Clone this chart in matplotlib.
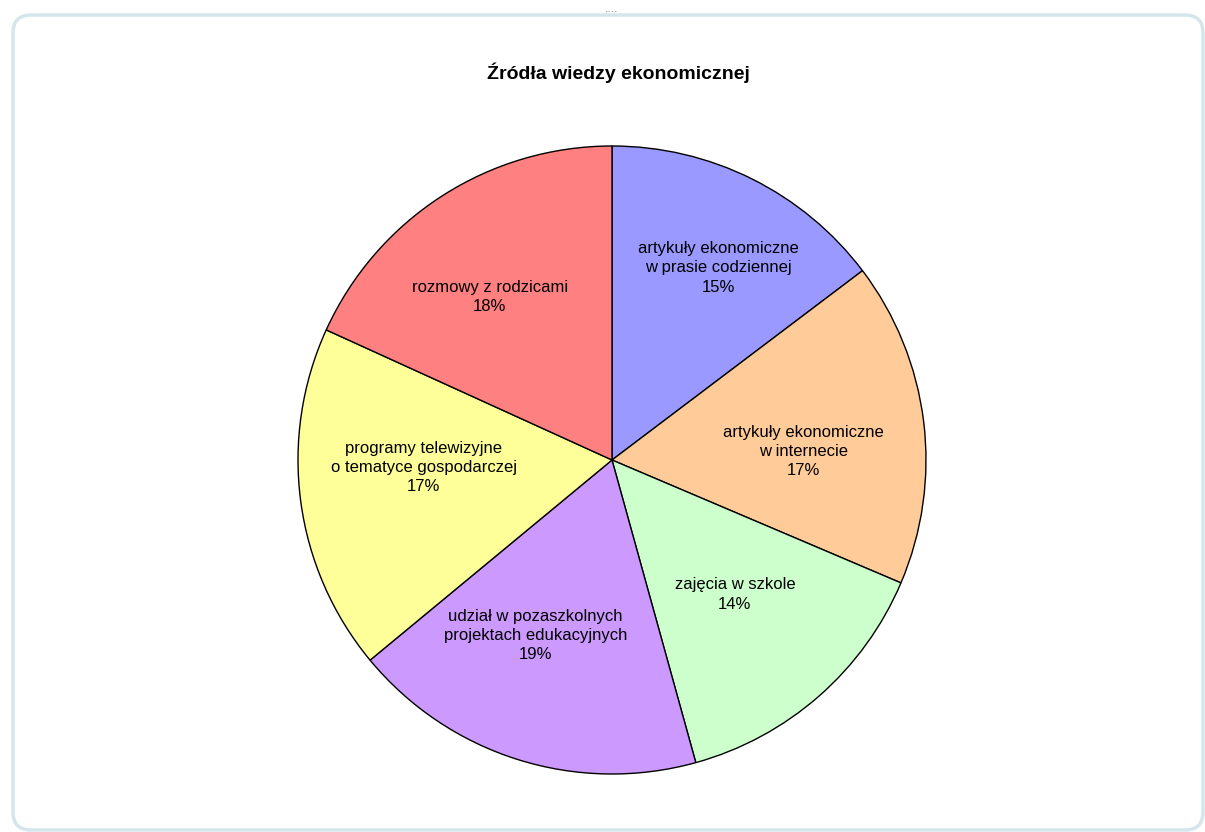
import numpy as np
import matplotlib
matplotlib.use("Agg")
import matplotlib.pyplot as plt
from matplotlib.patches import FancyBboxPatch

plt.rcParams['font.family'] = ['Liberation Sans', 'DejaVu Sans']

# data (slice sizes read from the drawn wedges, labels as printed)
categories = [
    "artykuły ekonomiczne\nw prasie codziennej",
    "artykuły ekonomiczne\nw internecie",
    "zajęcia w szkole",
    "udział w pozaszkolnych\nprojektach edukacyjnych",
    "programy telewizyjne\no tematyce gospodarczej",
    "rozmowy z rodzicami",
]
shares = [14.7, 16.7, 14.3, 18.3, 17.8, 18.2]
pct_labels = ["15%", "17%", "14%", "19%", "17%", "18%"]
colors = ["#9999FF", "#FFCC99", "#CCFFCC", "#CC99FF", "#FFFF99", "#FF8080"]

# label placement: fraction of radius and angle nudge from the wedge middle
label_r = [0.70, 0.61, 0.58, 0.61, 0.60, 0.65]
label_dang = [-2.6, -4.4, 1.2, -6.1, -5.3, 4.1]

W, H = 1205, 832
fig = plt.figure(figsize=(W / 100, H / 100), dpi=100)
fig.patch.set_facecolor("white")

# window frame (behind the chart)
frame = FancyBboxPatch((0.13, 0.02), 11.9, 8.15,
                       boxstyle="round,pad=0,rounding_size=0.18",
                       transform=fig.dpi_scale_trans,
                       facecolor="none", edgecolor="#d4e6eb", lw=2.5, zorder=-5)
fig.add_artist(frame)
fig.text(612 / W, 1 - 9 / H, "....", ha="center", va="center",
         fontsize=9, color="#888888")

fig.text(618 / W, 1 - 73 / H, "Źródła wiedzy ekonomicznej",
         ha="center", va="center", fontsize=14, fontweight="bold")

cx, cy, r = 612, 460, 314
ax = fig.add_axes([(cx - r) / W, (H - cy - r) / H, 2 * r / W, 2 * r / H])

wedges, _ = ax.pie(shares, colors=colors, startangle=90, counterclock=False,
                   wedgeprops=dict(edgecolor="black", linewidth=1.0, clip_on=False))

for w, cat, pct, lr, da in zip(wedges, categories, pct_labels, label_r, label_dang):
    mid = np.deg2rad((w.theta1 + w.theta2) / 2 + da)
    ax.text(lr * np.cos(mid), lr * np.sin(mid), f"{cat}\n{pct}",
            ha="center", va="center", multialignment="center",
            fontsize=12, linespacing=1.35)

ax.set_xlim(-1, 1)
ax.set_ylim(-1, 1)
ax.set_aspect("equal")
ax.axis("off")

fig.savefig("out.png", dpi=100)
